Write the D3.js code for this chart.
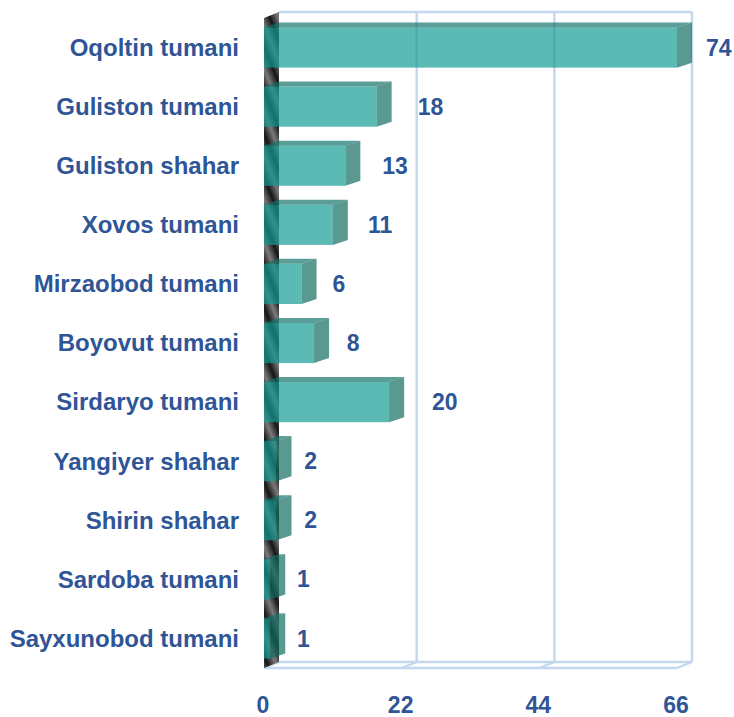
<!DOCTYPE html>
<html>
<head>
<meta charset="utf-8">
<script src="https://cdn.jsdelivr.net/npm/d3@7"></script>
<style>
  body { margin: 0; background: #fff; }
  text { font-family: "Liberation Sans", Arial, sans-serif; font-weight: bold; fill: #2f5597; }
</style>
</head>
<body>
<div id="chart"></div>
<script>
const svgWidth = 734;
const svgHeight = 717;

// data
const categories = ["Oqoltin tumani", "Guliston tumani", "Guliston shahar", "Xovos tumani",
    "Mirzaobod tumani", "Boyovut tumani", "Sirdaryo tumani", "Yangiyer shahar",
    "Shirin shahar", "Sardoba tumani", "Sayxunobod tumani"];
const values = [74, 18, 13, 11, 6, 8, 20, 2, 2, 1, 1];
const tickValues = [0, 22, 44, 66];
const xMax = 66;

// 3d depth offsets
const wallDx = 15, wallDy = -6;
const barDx = 15, barDy = -5;

const frontTop = 18, floorY = 668;

const xScale = d3.scaleLinear().domain([0, xMax]).range([264, 677]);
const xBack = v => xScale(v) + wallDx;
const yScale = d3.scaleBand()
    .domain(categories)
    .range([frontTop, floorY])
    .paddingInner(0.32)
    .paddingOuter(0.16);
// label offsets grow a bit with value
const labelScale = d3.scaleLinear().domain([0, 20]).range([290, 432]);

const data = categories.map((c, i) => ({ name: c, value: values[i] }));

const svg = d3.select("#chart").append("svg")
    .attr("width", svgWidth)
    .attr("height", svgHeight);

const defs = svg.append("defs");
const wallGrad = defs.append("linearGradient")
    .attr("id", "wallGrad")
    .attr("gradientUnits", "userSpaceOnUse")
    .attr("x1", 264).attr("y1", 3).attr("x2", 279).attr("y2", -3)
    .attr("spreadMethod", "repeat");
wallGrad.append("stop").attr("offset", "0%").attr("stop-color", "#161616");
wallGrad.append("stop").attr("offset", "50%").attr("stop-color", "#7a7a7a");
wallGrad.append("stop").attr("offset", "100%").attr("stop-color", "#161616");

const gridColor = "#c3d8ef";
const grid = svg.append("g")
    .attr("fill", "none")
    .attr("stroke", gridColor)
    .attr("stroke-width", 2.4);

// back wall gridlines
grid.selectAll(".vgrid")
    .data(tickValues.slice(1))
    .enter()
    .append("line")
    .attr("x1", d => xBack(d)).attr("x2", d => xBack(d))
    .attr("y1", frontTop + wallDy).attr("y2", floorY + wallDy);
// back wall top edge
grid.append("line")
    .attr("x1", xBack(0)).attr("x2", xBack(xMax))
    .attr("y1", frontTop + wallDy).attr("y2", frontTop + wallDy);
// floor
grid.append("line")
    .attr("x1", xBack(0)).attr("x2", xBack(xMax))
    .attr("y1", floorY + wallDy).attr("y2", floorY + wallDy);
grid.append("line")
    .attr("x1", xScale(0)).attr("x2", xScale(xMax))
    .attr("y1", floorY).attr("y2", floorY);
grid.selectAll(".fgrid")
    .data(tickValues)
    .enter()
    .append("line")
    .attr("x1", d => xScale(d)).attr("x2", d => xBack(d))
    .attr("y1", floorY).attr("y2", floorY + wallDy);

// left side wall
svg.append("path")
    .attr("d", `M${xScale(0)},${frontTop} L${xBack(0)},${frontTop + wallDy} L${xBack(0)},${floorY + wallDy} L${xScale(0)},${floorY} Z`)
    .attr("fill", "url(#wallGrad)");

// bars
const bars = svg.append("g")
    .selectAll("g")
    .data(data)
    .enter()
    .append("g");

const xEnd = d => xScale(Math.min(d.value, xMax));

bars.append("rect")
    .attr("x", xScale(0))
    .attr("y", d => yScale(d.name))
    .attr("width", d => xEnd(d) - xScale(0))
    .attr("height", yScale.bandwidth())
    .attr("fill", "rgb(19,155,148)")
    .attr("fill-opacity", 0.69);

bars.append("path")
    .attr("d", d => {
        const y0 = yScale(d.name);
        return `M${xScale(0)},${y0} L${xScale(0) + barDx},${y0 + barDy} L${xEnd(d) + barDx},${y0 + barDy} L${xEnd(d)},${y0} Z`;
    })
    .attr("fill", "rgb(18,115,106)")
    .attr("fill-opacity", 0.69);

bars.append("path")
    .attr("d", d => {
        const y0 = yScale(d.name), y1 = y0 + yScale.bandwidth();
        return `M${xEnd(d)},${y0} L${xEnd(d) + barDx},${y0 + barDy} L${xEnd(d) + barDx},${y1 + barDy} L${xEnd(d)},${y1} Z`;
    })
    .attr("fill", "rgb(16,107,94)")
    .attr("fill-opacity", 0.69);

// value labels
bars.append("text")
    .attr("x", d => d.value > xMax ? xBack(xMax) + 14 : labelScale(d.value))
    .attr("y", d => yScale(d.name) + yScale.bandwidth() / 2)
    .attr("dy", "0.35em")
    .attr("font-size", 23)
    .text(d => d.value);

// category labels
svg.append("g")
    .selectAll("text")
    .data(categories)
    .enter()
    .append("text")
    .attr("x", 239)
    .attr("y", d => yScale(d) + yScale.bandwidth() / 2)
    .attr("dy", "0.35em")
    .attr("text-anchor", "end")
    .attr("font-size", 24)
    .text(d => d);

// x tick labels
svg.append("g")
    .selectAll("text")
    .data(tickValues)
    .enter()
    .append("text")
    .attr("x", d => xScale(d) - 1)
    .attr("y", 705)
    .attr("dy", "0.35em")
    .attr("text-anchor", "middle")
    .attr("font-size", 23)
    .text(d => d);
</script>
</body>
</html>
